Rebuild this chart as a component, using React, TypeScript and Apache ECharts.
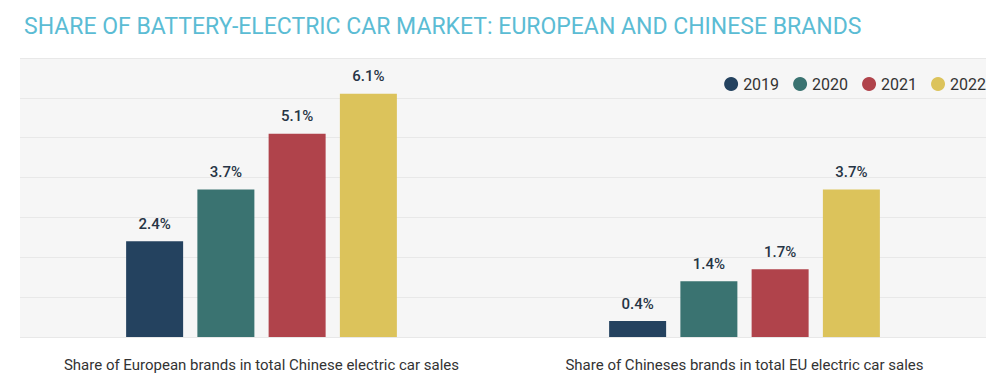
import React, { useEffect, useRef } from "react";
import * as echarts from "echarts";

const categories = [
  "Share of European brands in total Chinese electric car sales",
  "Share of Chineses brands in total EU electric car sales",
];
const years = ["2019", "2020", "2021", "2022"];
const values2019 = [2.4, 0.4];
const values2020 = [3.7, 1.4];
const values2021 = [5.1, 1.7];
const values2022 = [6.1, 3.7];
const colors = ["#24425f", "#3a7371", "#b0434b", "#dcc35b"];

export default function App() {
  const ref = useRef<HTMLDivElement>(null);
  useEffect(() => {
    document.body.style.margin = "0";
    const chart = echarts.init(ref.current!, null, { renderer: "svg" });
    const seriesData = [values2019, values2020, values2021, values2022];
    chart.setOption({
      animation: false,
      backgroundColor: "#ffffff",
      title: {
        text: "SHARE OF BATTERY-ELECTRIC CAR MARKET: EUROPEAN AND CHINESE BRANDS",
        left: 19,
        top: 10,
        textStyle: {
          color: "#5bbcd4",
          fontFamily: "Roboto",
          fontWeight: "normal",
          fontSize: 23,
        },
      },
      legend: {
        data: years,
        right: 9,
        top: 71,
        icon: "circle",
        itemWidth: 14,
        itemHeight: 14,
        itemGap: 14,
        textStyle: { color: "#333", fontFamily: "Roboto", fontSize: 16 },
      },
      grid: {
        left: 20,
        right: 14,
        top: 58,
        bottom: 55,
        show: true,
        backgroundColor: "#f6f6f6",
        borderWidth: 0,
      },
      xAxis: {
        type: "category",
        data: categories,
        axisLine: { show: false },
        axisTick: { show: false },
        axisLabel: {
          color: "#333",
          fontFamily: "Roboto",
          fontSize: 15,
          margin: 20,
          interval: 0,
          hideOverlap: false,
        },
      },
      yAxis: {
        type: "value",
        min: 0,
        max: 7,
        interval: 1,
        axisLabel: { show: false },
        axisLine: { show: false },
        axisTick: { show: false },
        splitLine: { lineStyle: { color: "#e8e8e8", width: 1 } },
      },
      series: years.map((y, i) => ({
        name: y,
        type: "bar",
        data: seriesData[i],
        barWidth: 57,
        barGap: "25%",
        itemStyle: { color: colors[i] },
        label: {
          show: true,
          position: "top",
          distance: 10,
          formatter: (p: any) => p.value.toFixed(1) + "%",
          color: "#263445",
          fontFamily: "Roboto",
          fontWeight: 500,
          fontSize: 15,
        },
      })),
    });
    return () => chart.dispose();
  }, []);
  return <div ref={ref} style={{ width: 1000, height: 392 }} />;
}
